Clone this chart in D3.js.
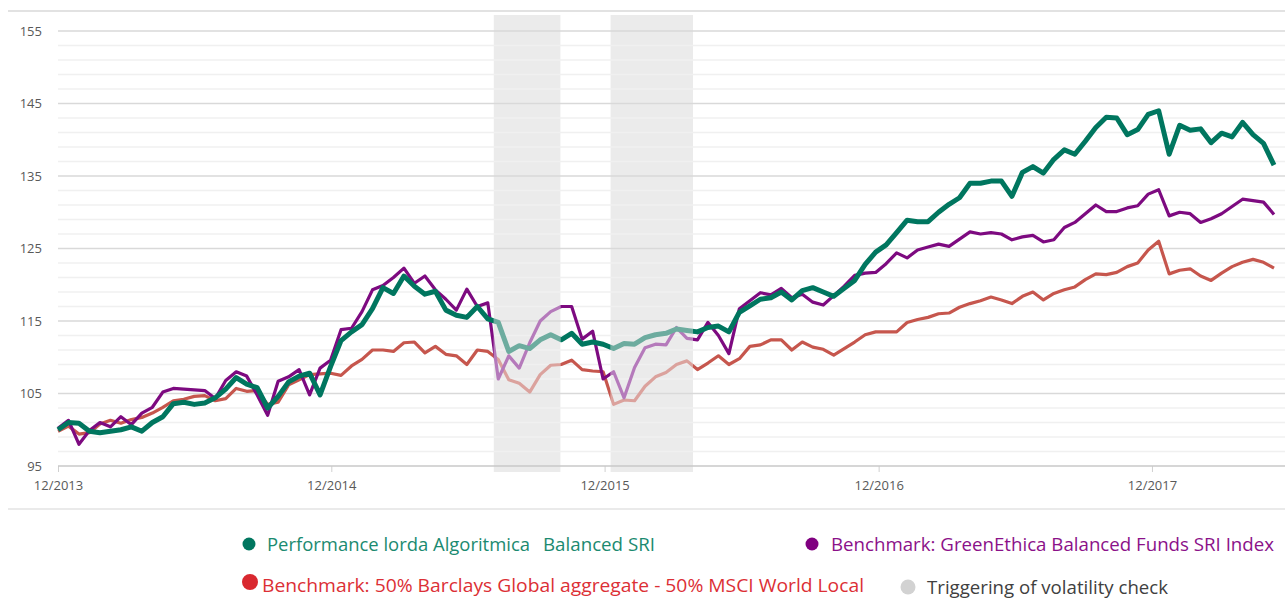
<!DOCTYPE html>
<html>
<head>
<meta charset="utf-8">
<script src="https://cdn.jsdelivr.net/npm/d3@7"></script>
<style>
  body { margin: 0; background: #fff; }
  text { font-family: "Open Sans", "Noto Sans", sans-serif; }
</style>
</head>
<body>
<div id="chart"></div>
<script>
// data di inizio e passo (dati bisettimanali)
const startDate = "2013-12-31";
const stepDays = 14;

// Performance lorda Algoritmica Balanced SRI
const algoritmica = [
  100.0, 101.0, 100.9, 99.8, 99.6, 99.8, 100.0, 100.4, 99.8, 101.0,
  101.8, 103.6, 103.8, 103.5, 103.7, 104.4, 105.6, 107.2, 106.3, 105.8,
  103.0, 104.6, 106.6, 107.4, 107.8, 104.8, 108.7, 112.3, 113.5, 114.5,
  116.7, 119.6, 118.8, 121.2, 119.8, 118.7, 119.1, 116.5, 115.8, 115.5,
  117.0, 115.3, 114.8, 110.8, 111.6, 111.2, 112.4, 113.1, 112.4, 113.3,
  111.8, 112.1, 111.8, 111.2, 111.9, 111.8, 112.7, 113.1, 113.3, 113.9,
  113.7, 113.5, 114.1, 114.3, 113.5, 116.2, 117.1, 118.0, 118.2, 119.0,
  117.9, 119.2, 119.6, 119.0, 118.4, 119.5, 120.6, 122.8, 124.5, 125.5,
  127.2, 128.9, 128.7, 128.7, 130.0, 131.1, 132.0, 134.0, 134.0, 134.3,
  134.3, 132.2, 135.5, 136.3, 135.4, 137.3, 138.6, 138.0, 139.8, 141.7,
  143.1, 143.0, 140.7, 141.4, 143.5, 144.0, 138.0, 142.0, 141.3, 141.5,
  139.6, 140.9, 140.4, 142.4, 140.7, 139.5, 136.5
];

// Benchmark GreenEthica Balanced Funds SRI Index
const greenEthica = [
  100.2, 101.3, 98.0, 99.9, 101.0, 100.4, 101.8, 100.7, 102.3, 103.1,
  105.2, 105.7, 105.6, 105.5, 105.4, 104.3, 106.8, 108.0, 107.4, 104.8,
  102.0, 106.7, 107.3, 108.3, 104.8, 108.5, 109.6, 113.8, 114.0, 116.3,
  119.3, 119.9, 121.0, 122.3, 120.2, 121.2, 119.3, 118.0, 116.5, 119.4,
  117.0, 117.5, 107.0, 110.2, 108.5, 112.0, 115.0, 116.3, 117.0, 117.0,
  112.5, 113.6, 107.0, 108.0, 104.4, 108.6, 111.3, 111.8, 111.7, 114.1,
  112.6, 112.4, 114.8, 113.0, 110.5, 116.7, 117.8, 118.9, 118.6, 119.5,
  118.2, 118.7, 117.6, 117.2, 118.5, 119.8, 121.3, 121.6, 121.7, 122.9,
  124.4, 123.7, 124.8, 125.2, 125.6, 125.3, 126.3, 127.3, 127.0, 127.2,
  127.0, 126.2, 126.6, 126.8, 125.9, 126.2, 127.9, 128.6, 129.8, 131.0,
  130.1, 130.1, 130.6, 130.9, 132.5, 133.1, 129.5, 130.0, 129.8, 128.6,
  129.1, 129.8, 130.8, 131.8, 131.6, 131.4, 129.7
];

// Benchmark 50% Barclays Global aggregate - 50% MSCI World Local
const barclaysMsci = [
  99.8, 100.5, 99.4, 99.6, 100.8, 101.3, 100.9, 101.4, 101.7, 102.3,
  103.1, 104.0, 104.2, 104.6, 104.7, 104.0, 104.3, 105.7, 105.3, 105.4,
  103.5, 103.8, 106.2, 106.9, 107.6, 107.7, 107.8, 107.5, 108.8, 109.7,
  111.0, 111.0, 110.8, 112.0, 112.1, 110.6, 111.5, 110.4, 110.2, 109.0,
  111.0, 110.8, 109.7, 106.9, 106.4, 105.2, 107.6, 108.9, 109.0, 109.6,
  108.3, 108.1, 108.0, 103.5, 104.1, 104.0, 106.0, 107.3, 107.9, 109.0,
  109.5, 108.3, 109.2, 110.2, 109.0, 109.8, 111.5, 111.7, 112.4, 112.4,
  111.0, 112.1, 111.4, 111.1, 110.3, 111.2, 112.1, 113.1, 113.5, 113.5,
  113.5, 114.8, 115.2, 115.5, 116.0, 116.1, 116.9, 117.4, 117.8, 118.3,
  117.9, 117.4, 118.4, 119.0, 117.9, 118.8, 119.3, 119.7, 120.7, 121.5,
  121.4, 121.7, 122.5, 123.0, 124.8, 126.0, 121.5, 122.0, 122.2, 121.2,
  120.6, 121.6, 122.5, 123.1, 123.5, 123.1, 122.3
];

// periodi di attivazione del controllo di volatilita
const volatilityPeriods = [
  ["2015-08-05", "2015-11-02"],
  ["2016-01-08", "2016-04-27"]
];

const yMajorTicks = [95, 105, 115, 125, 135, 145, 155];
const xTickDates = ["2013-12-31", "2014-12-31", "2015-12-31", "2016-12-31", "2017-12-31"];
const xTickLabels = ["12/2013", "12/2014", "12/2015", "12/2016", "12/2017"];

const width = 1285;
const height = 599;
const parse = d3.timeParse("%Y-%m-%d");

// griglia delle date: una osservazione ogni 14 giorni
const grid = algoritmica.map((_, i) => d3.timeDay.offset(parse(startDate), i * stepDays));

const series = [
  { key: "red", values: barclaysMsci, color: "#c6564d", faded: "#dba29d", width: 3.2 },
  { key: "purple", values: greenEthica, color: "#7d0a80", faded: "#b57abb", width: 3.2 },
  { key: "green", values: algoritmica, color: "#00765f", faded: "#6dac9f", width: 5 }
];

const svg = d3.select("#chart").append("svg")
  .attr("width", width)
  .attr("height", height);

const x = d3.scaleTime()
  .domain([parse(startDate), grid[grid.length - 1]])
  .range([58, 1274]);

const y = d3.scaleLinear()
  .domain([95, 155])
  .range([466, 31]);

const plotRight = 1285;

// bordo superiore e linea sotto le etichette
svg.append("line").attr("x1", 8).attr("x2", plotRight).attr("y1", 11).attr("y2", 11)
  .attr("stroke", "#d9d9d9").attr("stroke-width", 1.5);
svg.append("line").attr("x1", 8).attr("x2", plotRight).attr("y1", 509).attr("y2", 509)
  .attr("stroke", "#e3e3e3").attr("stroke-width", 1.5);

// fasce grigie
const bands = volatilityPeriods.map(p => [x(parse(p[0])), x(parse(p[1]))]);
svg.append("g").selectAll("rect")
  .data(bands)
  .join("rect")
  .attr("x", d => d[0])
  .attr("width", d => d[1] - d[0])
  .attr("y", 15)
  .attr("height", 472 - 15)
  .attr("fill", "#ebebeb");

// griglia minore (ogni 2) e maggiore (ogni 10)
const minorTicks = d3.range(95, 156, 2).filter(v => !yMajorTicks.includes(v));
svg.append("g").selectAll("line")
  .data(minorTicks)
  .join("line")
  .attr("x1", 58).attr("x2", plotRight)
  .attr("y1", d => y(d)).attr("y2", d => y(d))
  .attr("stroke", "#f0f0f0").attr("stroke-width", 1.5);

svg.append("g").selectAll("line")
  .data(yMajorTicks.slice(1))
  .join("line")
  .attr("x1", 58).attr("x2", plotRight)
  .attr("y1", d => y(d)).attr("y2", d => y(d))
  .attr("stroke", "#d9d9d9").attr("stroke-width", 1.5);

// asse y (solo etichette)
const yAxis = svg.append("g")
  .attr("transform", "translate(58,0)")
  .call(d3.axisLeft(y).tickValues(yMajorTicks).tickSize(0).tickPadding(16));
yAxis.select(".domain").remove();
yAxis.selectAll("text").attr("fill", "#595959").style("font-size", "13px");

// asse x
const xAxis = svg.append("g")
  .attr("transform", "translate(0,466)")
  .call(d3.axisBottom(x)
    .tickValues(xTickDates.map(parse))
    .tickSize(6)
    .tickPadding(9)
    .tickFormat((d, i) => xTickLabels[i]));
xAxis.select(".domain").remove();
xAxis.selectAll("line").attr("stroke", "#d0d0d0");
xAxis.selectAll("text").attr("fill", "#595959").style("font-size", "13px");

svg.append("line").attr("x1", 58).attr("x2", plotRight).attr("y1", 466).attr("y2", 466)
  .attr("stroke", "#c8c8c8").attr("stroke-width", 1.5);

// clip: dentro e fuori le fasce
const defs = svg.append("defs");
defs.append("clipPath").attr("id", "inBands")
  .selectAll("rect").data(bands).join("rect")
  .attr("x", d => d[0]).attr("width", d => d[1] - d[0])
  .attr("y", 0).attr("height", height);

const outside = [[0, bands[0][0]], [bands[0][1], bands[1][0]], [bands[1][1], width]];
defs.append("clipPath").attr("id", "outBands")
  .selectAll("rect").data(outside).join("rect")
  .attr("x", d => d[0]).attr("width", d => d[1] - d[0])
  .attr("y", 0).attr("height", height);

const line = d3.line()
  .x((d, i) => x(grid[i]))
  .y(d => y(d));

series.forEach(s => {
  svg.append("path")
    .attr("d", line(s.values))
    .attr("fill", "none")
    .attr("stroke", s.faded)
    .attr("stroke-width", s.width)
    .attr("stroke-linejoin", "round")
    .attr("clip-path", "url(#inBands)");
  svg.append("path")
    .attr("d", line(s.values))
    .attr("fill", "none")
    .attr("stroke", s.color)
    .attr("stroke-width", s.width)
    .attr("stroke-linejoin", "round")
    .attr("clip-path", "url(#outBands)");
});

// legenda
const legendItems = [
  { dot: [249, 544], r: 6.5, dotColor: "#00765f", texts: [
      { t: "Performance lorda Algoritmica", x: 267, w: 263, color: "#1b8a70" },
      { t: "Balanced SRI", x: 543, w: 112, color: "#1b8a70" }], y: 551 },
  { dot: [812, 544], r: 6.5, dotColor: "#800080", texts: [
      { t: "Benchmark: GreenEthica Balanced Funds SRI Index", x: 831, w: 443, color: "#8b1189" }], y: 551 },
  { dot: [250, 582], r: 8, dotColor: "#d9282f", texts: [
      { t: "Benchmark: 50% Barclays Global aggregate - 50% MSCI World Local", x: 262, w: 602, color: "#dc2f35" }], y: 592 },
  { dot: [908, 587], r: 7.5, dotColor: "#d2d2d2", texts: [
      { t: "Triggering of volatility check", x: 927, w: 241, color: "#404040" }], y: 594 }
];

const legend = svg.append("g");
legendItems.forEach(item => {
  legend.append("circle")
    .attr("cx", item.dot[0]).attr("cy", item.dot[1]).attr("r", item.r)
    .attr("fill", item.dotColor);
  item.texts.forEach(tx => {
    legend.append("text")
      .attr("x", tx.x).attr("y", item.y)
      .attr("fill", tx.color)
      .style("font-size", "19px")
      .attr("textLength", tx.w)
      .attr("lengthAdjust", "spacingAndGlyphs")
      .text(tx.t);
  });
});
</script>
</body>
</html>
